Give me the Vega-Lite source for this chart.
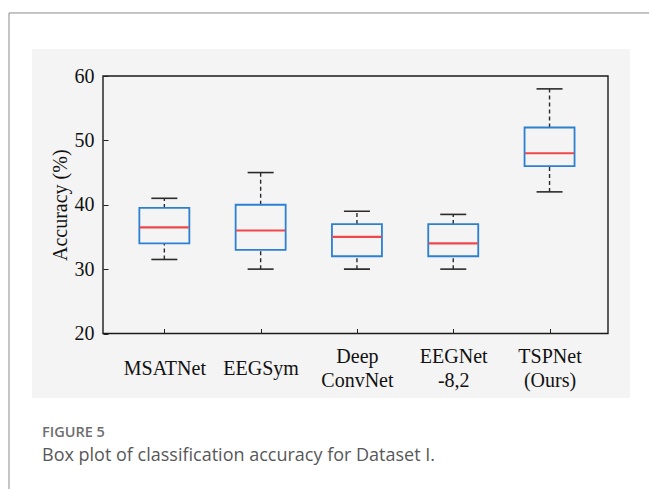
{
  "$schema": "https://vega.github.io/schema/vega-lite/v6.json",
  "width": 505,
  "height": 257.5,
  "autosize": {"type": "none"},
  "padding": {"left": 103, "top": 76, "right": 41, "bottom": 155.5},
  "background": "white",
  "config": {
    "view": {"stroke": null},
    "font": "Liberation Serif"
  },
  "title": {
    "text": "FIGURE 5",
    "subtitle": "Box plot of classification accuracy for Dataset I.",
    "orient": "bottom",
    "anchor": "start",
    "frame": "group",
    "dx": -61,
    "dy": -64,
    "offset": 0,
    "font": "Open Sans",
    "fontSize": 14.5,
    "fontWeight": 600,
    "color": "#6e6e6e",
    "subtitleFont": "Open Sans",
    "subtitleFontSize": 18,
    "subtitleColor": "#585858",
    "subtitlePadding": 6
  },
  "datasets": {
    "stats": [
      {"model": "MSATNet", "min": 31.5, "q1": 34, "median": 36.5, "q3": 39.5, "max": 41},
      {"model": "EEGSym", "min": 30, "q1": 33, "median": 36, "q3": 40, "max": 45},
      {"model": "DeepConvNet", "min": 30, "q1": 32, "median": 35, "q3": 37, "max": 39},
      {"model": "EEGNet-8,2", "min": 30, "q1": 32, "median": 34, "q3": 37, "max": 38.5},
      {"model": "TSPNet (Ours)", "min": 42, "q1": 46, "median": 48, "q3": 52, "max": 58}
    ],
    "one": [{}]
  },
  "layer": [
    {
      "data": {"name": "one"},
      "mark": {"type": "rect", "fill": "#f4f4f4", "stroke": null},
      "encoding": {
        "x": {"datum": -0.374, "type": "quantitative", "scale": {"domain": [0.363, 5.607], "padding": 0, "nice": false, "zero": false},
          "axis": {
            "values": [1, 2, 3, 4, 5],
            "labelExpr": "['MSATNet','EEGSym',['Deep','ConvNet'],['EEGNet','-8,2'],['TSPNet','(Ours)']][datum.value-1]",
            "title": null,
            "domain": false,
            "grid": false,
            "tickSize": -5,
            "tickColor": "#222",
            "tickWidth": 1,
            "labelFont": "Liberation Serif",
            "labelFontSize": 20,
            "labelColor": "#111",
            "labelBaseline": "middle",
            "labelLineHeight": 24,
            "labelPadding": {"condition": {"test": "datum.value <= 2", "value": 40}, "value": 28},
            "labelFlush": false,
            "labelOverlap": false,
            "zindex": 2
          }},
        "x2": {"datum": 5.835},
        "y": {"datum": 9.98, "type": "quantitative", "scale": {"domain": [20, 60], "padding": 0, "nice": false, "zero": false},
          "axis": {
            "values": [20, 25, 30, 35, 40, 45, 50, 55, 60],
            "labelExpr": "datum.value % 10 === 0 ? datum.label : ''",
            "title": "Accuracy (%)",
            "titleFont": "Liberation Serif",
            "titleFontSize": 20,
            "titleFontWeight": "normal",
            "titleColor": "#111",
            "titlePadding": 4,
            "domain": false,
            "grid": false,
            "tickSize": -5,
            "tickColor": "#222",
            "tickWidth": 1,
            "labelFont": "Liberation Serif",
            "labelFontSize": 20,
            "labelColor": "#111",
            "labelPadding": 14,
            "labelOverlap": false,
            "zindex": 2
          }},
        "y2": {"datum": 64.19}
      }
    },
    {
      "data": {"name": "one"},
      "mark": {"type": "rect", "fill": null, "stroke": "#8a8a8a", "strokeWidth": 1},
      "encoding": {
        "x": {"datum": -0.613, "type": "quantitative"},
        "x2": {"datum": 7},
        "y": {"datum": 69.79, "type": "quantitative"},
        "y2": {"datum": -4.31}
      }
    },
    {
      "data": {"name": "one"},
      "mark": {"type": "rect", "fill": null, "stroke": "#1a1a1a", "strokeWidth": 1.4},
      "encoding": {
        "x": {"datum": 0.363, "type": "quantitative"},
        "x2": {"datum": 5.607},
        "y": {"datum": 20, "type": "quantitative"},
        "y2": {"datum": 60}
      }
    },
    {
      "data": {"name": "stats"},
      "transform": [{"window": [{"op": "row_number", "as": "idx"}]}],
      "layer": [
        {
          "mark": {"type": "rule", "color": "#2a2a2a", "strokeWidth": 1.4, "strokeDash": [4, 3]},
          "encoding": {
            "x": {"field": "idx", "type": "quantitative"},
            "y": {"field": "q3", "type": "quantitative"},
            "y2": {"field": "max"}
          }
        },
        {
          "mark": {"type": "rule", "color": "#2a2a2a", "strokeWidth": 1.4, "strokeDash": [4, 3]},
          "encoding": {
            "x": {"field": "idx", "type": "quantitative"},
            "y": {"field": "min", "type": "quantitative"},
            "y2": {"field": "q1"}
          }
        },
        {
          "mark": {"type": "tick", "orient": "horizontal", "color": "#2a2a2a", "size": 26, "thickness": 1.6, "opacity": 1},
          "encoding": {
            "x": {"field": "idx", "type": "quantitative"},
            "y": {"field": "max", "type": "quantitative"}
          }
        },
        {
          "mark": {"type": "tick", "orient": "horizontal", "color": "#2a2a2a", "size": 26, "thickness": 1.6, "opacity": 1},
          "encoding": {
            "x": {"field": "idx", "type": "quantitative"},
            "y": {"field": "min", "type": "quantitative"}
          }
        },
        {
          "mark": {"type": "bar", "size": 50, "fill": "#f4f4f4", "stroke": "#2b80d2", "strokeWidth": 1.8, "cornerRadius": 0},
          "encoding": {
            "x": {"field": "idx", "type": "quantitative"},
            "y": {"field": "q1", "type": "quantitative"},
            "y2": {"field": "q3"}
          }
        },
        {
          "mark": {"type": "tick", "orient": "horizontal", "color": "#f0474d", "size": 49, "thickness": 2.2, "opacity": 1},
          "encoding": {
            "x": {"field": "idx", "type": "quantitative"},
            "y": {"field": "median", "type": "quantitative"}
          }
        }
      ]
    }
  ]
}
